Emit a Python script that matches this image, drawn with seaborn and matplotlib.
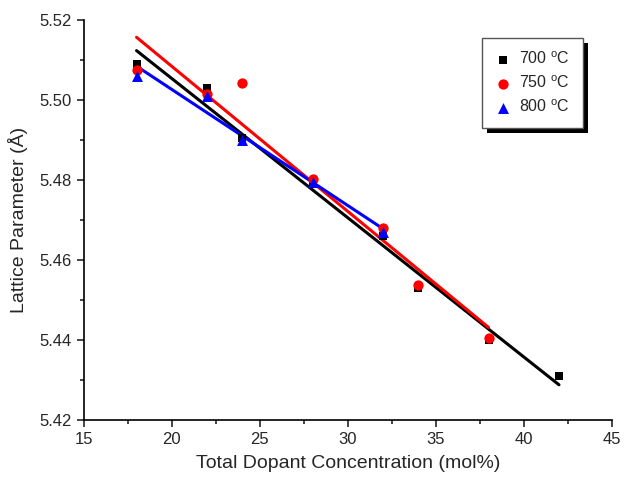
import numpy as np
import pandas as pd
import matplotlib
matplotlib.use("Agg")
import matplotlib.pyplot as plt
import seaborn as sns
from matplotlib.ticker import MultipleLocator, FormatStrFormatter
from matplotlib.patches import Rectangle

# -------------------------------
# Data
# -------------------------------
x_700 = [18, 22, 24, 28, 32, 34, 38, 42]
y_700 = [5.509, 5.503, 5.4905, 5.479, 5.466, 5.453, 5.440, 5.431]

x_750 = [18, 22, 24, 28, 32, 34, 38]
y_750 = [5.5075, 5.5015, 5.5043, 5.4803, 5.468, 5.4537, 5.4405]

x_800 = [18, 22, 24, 28, 32]
y_800 = [5.506, 5.501, 5.490, 5.4795, 5.467]

labels = ["700 $^{\\mathrm{o}}$C", "750 $^{\\mathrm{o}}$C", "800 $^{\\mathrm{o}}$C"]
colors = ["black", "red", "blue"]
markers = ["s", "o", "^"]
sizes = [38, 55, 62]

sns.set_style("ticks")
plt.rcParams['font.family'] = ['Liberation Sans', 'DejaVu Sans']
plt.rcParams['mathtext.fontset'] = 'custom'
plt.rcParams['mathtext.rm'] = 'Liberation Sans'

fig = plt.figure(figsize=(6.44, 4.84), dpi=100)
ax = fig.add_axes([0.130, 0.132, 0.820, 0.827])

series = [(x_700, y_700), (x_750, y_750), (x_800, y_800)]
for (xs, ys), lab, c, m, s in zip(series, labels, colors, markers, sizes):
    df = pd.DataFrame({"x": xs, "y": ys})
    sns.regplot(data=df, x="x", y="y", ax=ax, ci=None, truncate=True,
                marker=m, color=c, label=lab,
                scatter_kws={"s": s, "alpha": 1, "linewidths": 0, "zorder": 3},
                line_kws={"lw": 2.2, "zorder": 2})

ax.set_xlim(15, 45)
ax.set_ylim(5.42, 5.52)
ax.xaxis.set_major_locator(MultipleLocator(5))
ax.xaxis.set_minor_locator(MultipleLocator(2.5))
ax.yaxis.set_major_locator(MultipleLocator(0.02))
ax.yaxis.set_minor_locator(MultipleLocator(0.01))
ax.yaxis.set_major_formatter(FormatStrFormatter("%.2f"))
ax.tick_params(which="major", direction="out", length=5, width=1.2, labelsize=12)
ax.tick_params(which="minor", direction="out", length=3, width=1.2)
for sp in ["top", "right"]:
    ax.spines[sp].set_visible(False)
for sp in ["left", "bottom"]:
    ax.spines[sp].set_linewidth(1.2)
    ax.spines[sp].set_color("black")

ax.set_xlabel("Total Dopant Concentration (mol%)", fontsize=14, labelpad=6)
ax.set_ylabel("Lattice Parameter (\u00c5)", fontsize=14, labelpad=8)

handles, labs = ax.get_legend_handles_labels()
sc_handles = [h for h in handles if isinstance(h, matplotlib.collections.PathCollection)]
leg = ax.legend(sc_handles, labels, loc="upper right", bbox_to_anchor=(0.945, 0.955),
                frameon=True, fancybox=False, shadow=False,
                fontsize=11.5, handletextpad=0.5, borderpad=0.8, labelspacing=0.45,
                handlelength=1.0, borderaxespad=0)
leg.get_frame().set_edgecolor("#555555")
leg.get_frame().set_linewidth(1.0)
leg.get_frame().set_alpha(1)

# solid black drop shadow behind the legend box
fig.canvas.draw()
bb = leg.get_frame().get_window_extent()
shadow = Rectangle((bb.x0 + 5, bb.y0 - 5), bb.width, bb.height, transform=None,
                   facecolor="black", edgecolor="none", zorder=4.9)
ax.add_artist(shadow)
shadow.set_clip_on(False)

fig.savefig("out.png", dpi=100)
